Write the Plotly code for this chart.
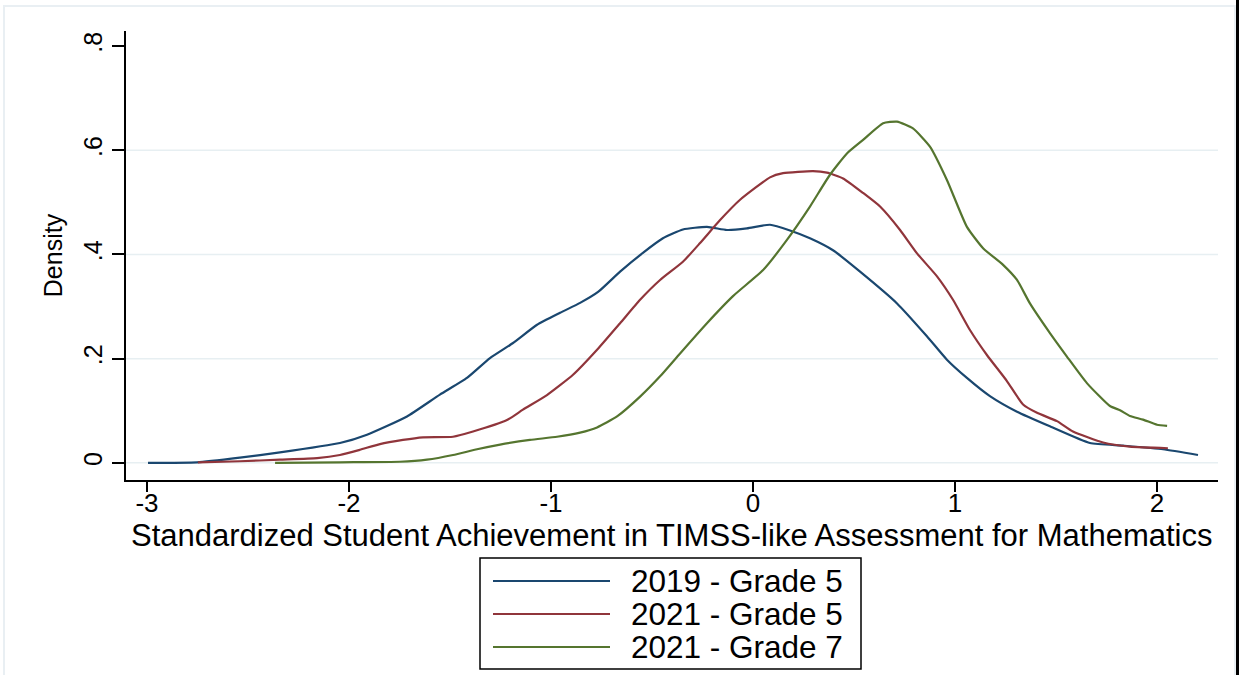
import plotly.graph_objects as go

# ---- data ----
series_names = ["2019 - Grade 5", "2021 - Grade 5", "2021 - Grade 7"]
series_colors = ["#1a476f", "#90353b", "#55752f"]

blue_x = [-2.995, -2.752, -2.540, -2.342, -2.045, -1.911, -1.713, -1.550, -1.416, -1.302,
          -1.188, -1.069, -0.955, -0.856, -0.767, -0.658, -0.545, -0.446, -0.347, -0.228,
          -0.129, -0.030, 0.084, 0.183, 0.282, 0.396, 0.530, 0.713, 0.861, 0.960,
          1.059, 1.173, 1.307, 1.470, 1.668, 1.832, 2.030, 2.203]
blue_y = [0.000, 0.001, 0.010, 0.020, 0.038, 0.054, 0.089, 0.131, 0.163, 0.201,
          0.230, 0.265, 0.288, 0.307, 0.328, 0.367, 0.403, 0.431, 0.448, 0.453,
          0.447, 0.450, 0.457, 0.446, 0.431, 0.408, 0.367, 0.306, 0.243, 0.198,
          0.163, 0.128, 0.098, 0.070, 0.038, 0.033, 0.026, 0.015]

red_x = [-2.748, -2.540, -2.342, -2.158, -2.045, -1.946, -1.847, -1.733, -1.634, -1.485,
         -1.386, -1.218, -1.139, -1.020, -0.891, -0.772, -0.658, -0.559, -0.460, -0.347,
         -0.262, -0.163, -0.064, 0.084, 0.149, 0.297, 0.366, 0.446, 0.545, 0.629,
         0.728, 0.812, 0.911, 0.990, 1.074, 1.158, 1.257, 1.337, 1.406, 1.505,
         1.584, 1.733, 1.866, 2.054]
red_y = [0.001, 0.003, 0.006, 0.009, 0.015, 0.025, 0.036, 0.044, 0.049, 0.050,
         0.060, 0.082, 0.102, 0.130, 0.169, 0.217, 0.268, 0.313, 0.351, 0.386,
         0.422, 0.466, 0.505, 0.548, 0.556, 0.560, 0.557, 0.546, 0.518, 0.492,
         0.447, 0.402, 0.358, 0.313, 0.255, 0.207, 0.157, 0.112, 0.096, 0.080,
         0.060, 0.039, 0.031, 0.028]

green_x = [-2.366, -2.045, -1.748, -1.614, -1.485, -1.366, -1.252, -1.104, -0.970, -0.856,
           -0.772, -0.673, -0.559, -0.460, -0.361, -0.228, -0.099, 0.050, 0.168, 0.282,
           0.381, 0.465, 0.545, 0.644, 0.713, 0.792, 0.876, 0.960, 1.059, 1.139,
           1.238, 1.307, 1.371, 1.470, 1.554, 1.653, 1.767, 1.817, 1.866, 1.931,
           2.000, 2.050]
green_y = [0.000, 0.001, 0.002, 0.006, 0.015, 0.026, 0.035, 0.044, 0.050, 0.058,
           0.068, 0.089, 0.127, 0.166, 0.210, 0.268, 0.320, 0.370, 0.428, 0.492,
           0.553, 0.594, 0.620, 0.652, 0.655, 0.642, 0.607, 0.543, 0.453, 0.412,
           0.380, 0.351, 0.306, 0.249, 0.204, 0.153, 0.109, 0.101, 0.090, 0.083,
           0.073, 0.071]

x_tick_vals = [-3, -2, -1, 0, 1, 2]
x_tick_text = ["-3", "-2", "-1", "0", "1", "2"]
y_tick_vals = [0, 0.2, 0.4, 0.6, 0.8]
y_tick_text = ["0", ".2", ".4", ".6", ".8"]
grid_vals = [0, 0.2, 0.4, 0.6]

x_title = "Standardized Student Achievement in TIMSS-like Assessment for Mathematics"
y_title = "Density"

FONT = "Liberation Sans, Arial, sans-serif"
W, H = 1239, 675
ML, MR, MT, MB = 126, 21, 31, 195

fig = go.Figure()
for xs, ys, name, col in zip([blue_x, red_x, green_x], [blue_y, red_y, green_y],
                             series_names, series_colors):
    fig.add_trace(go.Scatter(x=xs, y=ys, mode="lines", name=name,
                             line=dict(color=col, width=2.2, shape="spline", smoothing=0.5),
                             showlegend=False))

shapes = []
# horizontal grid lines (Stata style, none at the top tick)
for g in grid_vals:
    shapes.append(dict(type="line", xref="paper", yref="y", x0=0, x1=1, y0=g, y1=g,
                       line=dict(color="#e7eff2", width=1.5), layer="below"))

# pixel -> paper helpers for decorations
pw = W - ML - MR
ph = H - MT - MB
def px(xp):
    return (xp - ML) / pw
def py(yp):
    return (H - MB - yp) / ph

# outer light frame and right dark strip
shapes.append(dict(type="rect", xref="paper", yref="paper", x0=px(4), x1=px(1235),
                   y0=py(690), y1=py(6), line=dict(color="#e9eff3", width=2),
                   fillcolor="rgba(0,0,0,0)", layer="below"))
shapes.append(dict(type="rect", xref="paper", yref="paper", x0=px(1236), x1=px(1245),
                   y0=py(700), y1=py(-10), line=dict(width=0), fillcolor="#000000"))

# custom legend box
shapes.append(dict(type="rect", xref="paper", yref="paper", x0=px(480), x1=px(861),
                   y0=py(669), y1=py(558), line=dict(color="#000000", width=1.5),
                   fillcolor="white"))
annotations = []
row_y = [581, 614, 647]
for name, col, ry in zip(series_names, series_colors, row_y):
    shapes.append(dict(type="line", xref="paper", yref="paper", x0=px(493), x1=px(610),
                       y0=py(ry), y1=py(ry), line=dict(color=col, width=2.2)))
    annotations.append(dict(text=name, xref="paper", yref="paper", x=px(629), y=py(ry),
                            xanchor="left", yanchor="middle", showarrow=False,
                            font=dict(family=FONT, size=31.5, color="#000000")))

# x-axis title placed as centred text below the tick labels
annotations.append(dict(text=x_title, xref="paper", yref="paper", x=px(672), y=py(535),
                        xanchor="center", yanchor="middle", showarrow=False,
                        font=dict(family=FONT, size=31, color="#000000")))

fig.update_layout(
    width=W, height=H,
    margin=dict(l=ML, r=MR, t=MT, b=MB, pad=0),
    paper_bgcolor="white", plot_bgcolor="white",
    font=dict(family=FONT, color="#000000"),
    shapes=shapes, annotations=annotations,
    xaxis=dict(range=[-3.104, 2.302], tickvals=x_tick_vals, ticktext=x_tick_text,
               showgrid=False, zeroline=False, showline=True, linecolor="#000000",
               linewidth=1.5, ticks="outside", ticklen=10, tickwidth=1.5,
               tickcolor="#000000", tickfont=dict(size=26, family=FONT),
               ticklabelstandoff=-11),
    yaxis=dict(range=[-0.033, 0.829], tickvals=y_tick_vals, ticktext=y_tick_text,
               showgrid=False, zeroline=False, showline=True, linecolor="#000000",
               linewidth=1.5, ticks="outside", ticklen=12, tickwidth=1.5,
               tickcolor="#000000", tickangle=-90, tickfont=dict(size=25, family=FONT),
               title=dict(text=y_title, font=dict(size=25, family=FONT), standoff=10)),
)

fig.write_html("out.html", config={"displayModeBar": False},
               post_script="document.body.style.margin='0';document.body.style.overflow='hidden';")
